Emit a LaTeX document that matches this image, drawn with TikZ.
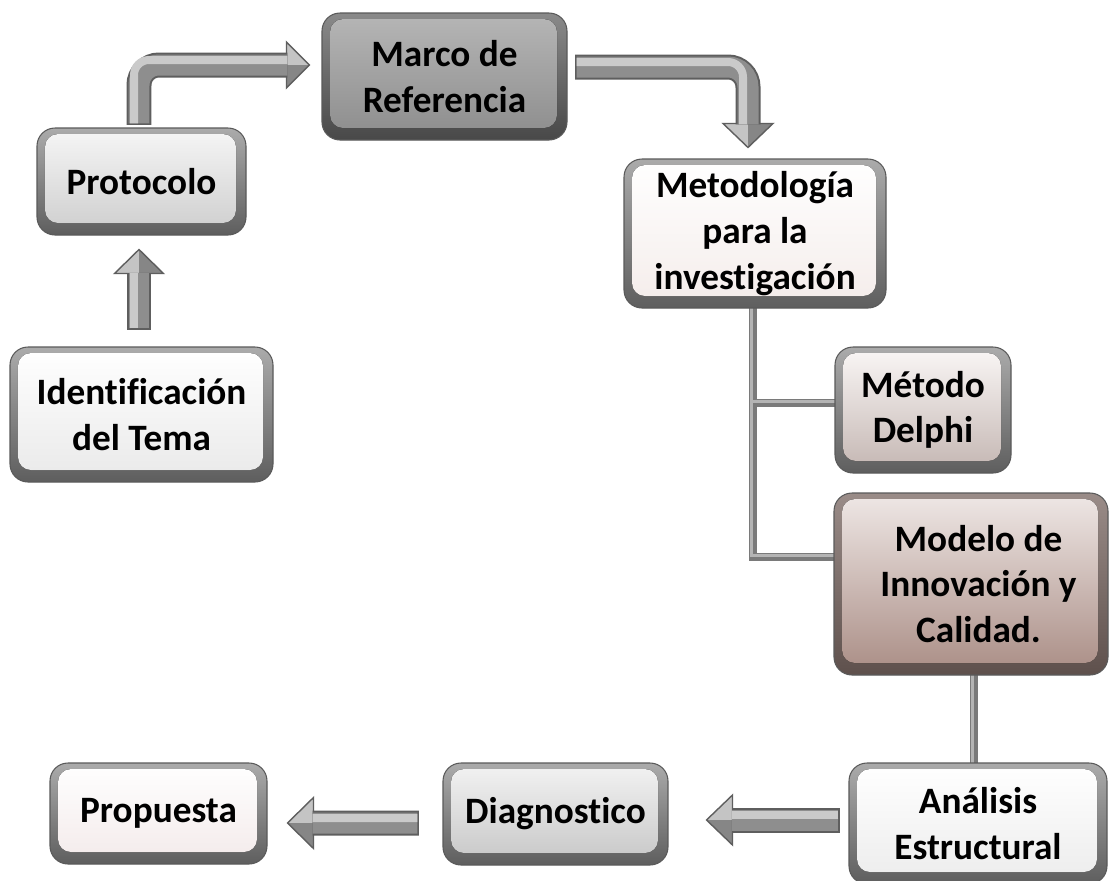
\documentclass[tikz,border=0pt]{standalone}
\usepackage{fontspec}
\setmainfont{Carlito}[Ligatures=NoCommon]
\usetikzlibrary{calc}
\pgfdeclarelayer{bg}
\pgfsetlayers{bg,main}

% frame and face colours of the bevelled boxes
\definecolor{edge}{HTML}{5A5A5A}
\definecolor{frameT}{HTML}{ABABAB}
\definecolor{frameB}{HTML}{5E5E5E}
% block arrows and connector lines
\definecolor{arrLine}{HTML}{5E5E5E}
\definecolor{arrBody}{HTML}{8E8E8E}
\definecolor{arrHi}{HTML}{CACACA}
\definecolor{headLight}{HTML}{C4C4C4}
\definecolor{headDark}{HTML}{868686}
\definecolor{lnDark}{HTML}{7A7A7A}
\definecolor{lnLight}{HTML}{B4B4B4}

\begin{document}
\begin{tikzpicture}[x=0.02cm,y=-0.02cm,
  facetop/.store in=\facetopc, facebot/.store in=\facebotc,
  frametop/.store in=\frametopc, framebot/.store in=\framebotc,
  facetop=white, facebot=white, frametop=frameT, framebot=frameB,
  box/.style={rounded corners=0.36cm, inner sep=0pt, align=center,
    font=\fontsize{21.2}{26}\selectfont\bfseries,
    draw=edge, line width=0.6pt,
    top color=\frametopc, bottom color=\framebotc,
    path picture={\fill[rounded corners=0.26cm, top color=\facetopc, bottom color=\facebotc]
      ($(path picture bounding box.south west)+(0.16cm,0.24cm)$) rectangle
      ($(path picture bounding box.north east)+(-0.2cm,-0.12cm)$);}},
  sz/.style 2 args={minimum width=#1*0.02cm, minimum height=#2*0.02cm},
  shout/.style={draw=arrLine, line width=0.5cm},
  sbody/.style={draw=arrBody, line width=0.42cm},
  sstripe/.style={draw=arrHi, line width=0.16cm},
  hdl/.style={fill=headLight},
  hdd/.style={fill=headDark},
  hline/.style={draw=arrLine, line width=0.8pt, line join=miter},
  lnout/.style={draw=lnDark, line width=0.16cm},
  lnhi/.style={draw=lnLight, line width=0.06cm},
]
\useasboundingbox (0,0) rectangle (1110,880);

% ---- boxes ----
\node[frametop={rgb,255:red,138;green,138;blue,138}, framebot={rgb,255:red,72;green,72;blue,72},
      facetop={rgb,255:red,182;green,182;blue,182}, facebot={rgb,255:red,140;green,140;blue,140},
      box, sz={245}{127}] (marco) at (444.5,76.5) {Marco de\\Referencia};
\node[facetop={rgb,255:red,246;green,246;blue,246}, facebot={rgb,255:red,205;green,205;blue,205},
      box, sz={209}{107}] (proto) at (141.5,181.5) {Protocolo};
\node[facetop=white, facebot={rgb,255:red,233;green,233;blue,233},
      box, sz={263}{135}] (ident) at (141.5,414.5) {Identificación\\del Tema};
\node[facetop=white, facebot={rgb,255:red,244;green,236;blue,234},
      box, sz={262}{149}] (metod) at (755,233.5) {Metodología\\para la\\investigación};
\node[facetop={rgb,255:red,250;green,247;blue,246}, facebot={rgb,255:red,195;green,181;blue,177},
      box, sz={176}{126}] (delphi) at (923,410) {Método\\Delphi};
\node[frametop={rgb,255:red,154;green,140;blue,136}, framebot={rgb,255:red,94;green,80;blue,76},
      facetop={rgb,255:red,239;green,232;blue,230}, facebot={rgb,255:red,169;green,140;blue,132},
      box, sz={274}{182}] (model) at (971,584) {\hspace*{0.3cm}Modelo de\\\hspace*{0.3cm}Innovación y\\\hspace*{0.3cm}Calidad.};
\node[facetop=white, facebot={rgb,255:red,236;green,236;blue,236},
      box, sz={258}{121}] (anal) at (978,823.5) {Análisis\\Estructural};
\node[facetop={rgb,255:red,243;green,243;blue,243}, facebot={rgb,255:red,198;green,198;blue,198},
      box, sz={225}{102}] (diag) at (555.5,814) {Diagnostico};
\node[facetop=white, facebot={rgb,255:red,243;green,234;blue,234},
      box, sz={217}{101}] (prop) at (158.5,813.5) {Propuesta};

% ---- connectors ----
\begin{pgfonlayer}{bg}
\fill[white] (0,0) rectangle (1110,880);

% tree from the methodology box to its two branches
\coordinate (t0) at ($(metod.south)+(-2,-4)$);
\coordinate (m1) at ($(model.west)+(3,-27)$);
\coordinate (d1) at ($(delphi.west)+(3,-7)$);
\draw[lnout] (t0) |- (m1);
\draw[lnout] (t0 |- d1) -- (d1);
\draw[lnhi] ([shift={(-1.5,0)}]t0) |- ([shift={(0,-1.5)}]m1);
\draw[lnhi] ([shift={(-1.5,-1.5)}]t0 |- d1) -- ([shift={(0,-1.5)}]d1);
% model to structural analysis
\coordinate (b0) at ($(model.south)+(3,-3)$);
\coordinate (b1) at ($(anal.north)+(-4,3)$);
\draw[lnout] (b0) -- (b1);
\draw[lnhi] ([shift={(-1.5,0)}]b0) -- ([shift={(-1.5,0)}]b1);

% Identificación -> Protocolo (up)
\coordinate (a3t) at ($(proto.south)+(-2.5,14)$);
\coordinate (a3s) at ($(ident.north)+(-2.5,-18)$);
\coordinate (a3b) at ($(a3t)+(0,23)$);
\fill[hdl] (a3t) -- ++(-24.5,24) -- ++(24.5,0) -- cycle;
\fill[hdd] (a3t) -- ++(24.5,24) -- ++(-24.5,0) -- cycle;
\draw[hline] (a3t) -- ++(-24.5,24) -- ++(49,0) -- cycle;
\draw[shout] ([shift={(0,1.5)}]a3s) -- (a3b);
\draw[sbody] (a3s) -- (a3b);
\draw[sstripe] ([shift={(-5,0)}]a3s) -- ([shift={(-5,0)}]a3b);

% Protocolo -> Marco de Referencia (bent)
\coordinate (a1s) at ($(proto.north)+(-2.5,-4)$);
\coordinate (a1t) at ($(marco.west)+(-12,-11.5)$);
\coordinate (a1b) at ($(a1t)+(-22,0)$);
\fill[hdl] (a1t) -- ++(-23,-23) -- ++(0,23) -- cycle;
\fill[hdd] (a1t) -- ++(-23,23) -- ++(0,-23) -- cycle;
\draw[hline] (a1t) -- ++(-23,-23) -- ++(0,46) -- cycle;
\draw[shout, rounded corners=0.4cm] ([shift={(0,1.5)}]a1s) |- (a1b);
\draw[sbody, rounded corners=0.4cm] (a1s) |- (a1b);
\draw[sstripe, rounded corners=0.3cm] ([shift={(-5,0)}]a1s) |- ([shift={(0,-5)}]a1b);

% Marco de Referencia -> Metodología (bent)
\coordinate (a2s) at ($(marco.east)+(9,-9.5)$);
\coordinate (a2t) at ($(metod.north)+(-7,-11)$);
\coordinate (a2b) at ($(a2t)+(0,-23)$);
\fill[hdl] (a2t) -- ++(-25,-24) -- ++(25,0) -- cycle;
\fill[hdd] (a2t) -- ++(25,-24) -- ++(-25,0) -- cycle;
\draw[hline] (a2t) -- ++(-25,-24) -- ++(50,0) -- cycle;
\draw[shout, rounded corners=0.4cm] ([shift={(-1.5,0)}]a2s) -| (a2b);
\draw[sbody, rounded corners=0.4cm] (a2s) -| (a2b);
\draw[sstripe, rounded corners=0.3cm] ([shift={(0,-5)}]a2s) -| ([shift={(-5,0)}]a2b);

% Análisis Estructural -> Diagnostico (left)
\coordinate (a4t) at ($(diag.east)+(38,6)$);
\coordinate (a4s) at ($(anal.west)+(-10,-3.5)$);
\coordinate (a4b) at ($(a4t)+(25,0)$);
\fill[hdl] (a4t) -- ++(26,-25) -- ++(0,25) -- cycle;
\fill[hdd] (a4t) -- ++(26,25) -- ++(0,-25) -- cycle;
\draw[hline] (a4t) -- ++(26,-25) -- ++(0,50) -- cycle;
\draw[shout] ([shift={(1.5,0)}]a4s) -- (a4b);
\draw[sbody] (a4s) -- (a4b);
\draw[sstripe] ([shift={(0,-5)}]a4s) -- ([shift={(0,-5)}]a4b);

% Diagnostico -> Propuesta (left)
\coordinate (a5t) at ($(prop.east)+(20,9.5)$);
\coordinate (a5s) at ($(diag.west)+(-25,9)$);
\coordinate (a5b) at ($(a5t)+(25,0)$);
\fill[hdl] (a5t) -- ++(26,-25.5) -- ++(0,25.5) -- cycle;
\fill[hdd] (a5t) -- ++(26,25.5) -- ++(0,-25.5) -- cycle;
\draw[hline] (a5t) -- ++(26,-25.5) -- ++(0,51) -- cycle;
\draw[shout] ([shift={(1.5,0)}]a5s) -- (a5b);
\draw[sbody] (a5s) -- (a5b);
\draw[sstripe] ([shift={(0,-5)}]a5s) -- ([shift={(0,-5)}]a5b);
\end{pgfonlayer}
\end{tikzpicture}
\end{document}
